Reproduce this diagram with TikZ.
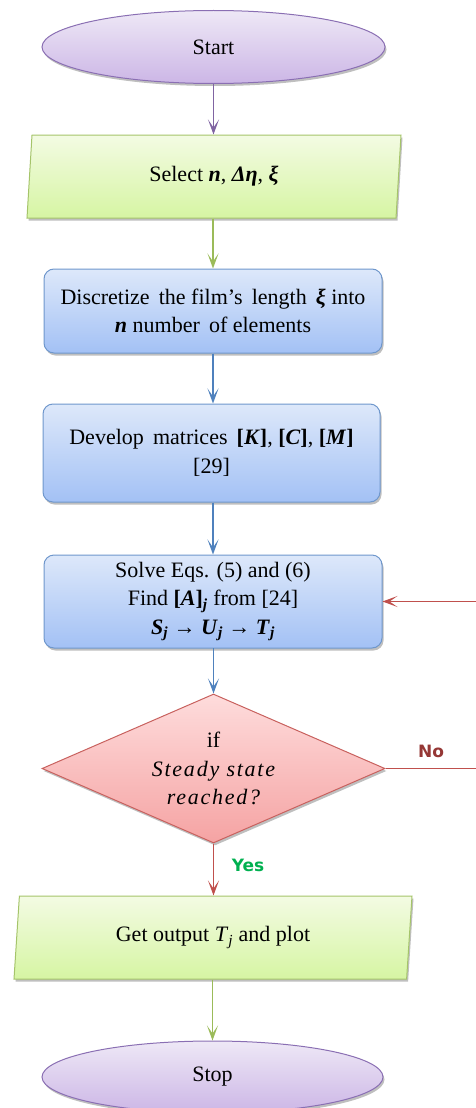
\documentclass[tikz,border=0pt]{standalone}
\usepackage{fontspec}
\setmainfont{Liberation Serif}
\newfontfamily\labelfont{DejaVu Sans}
\newfontfamily\spacedit[LetterSpace=8]{Liberation Serif}
\usetikzlibrary{shapes.geometric,shadows,arrows.meta}
\definecolor{pborder}{HTML}{8A6FB3}
\definecolor{ptop}{HTML}{EEE8F6}
\definecolor{pbot}{HTML}{CCB6E6}
\definecolor{gborder}{HTML}{A5C46A}
\definecolor{gtop}{HTML}{F3FBE3}
\definecolor{gbot}{HTML}{D6F5A3}
\definecolor{bborder}{HTML}{6F97CC}
\definecolor{btop}{HTML}{DDE8FA}
\definecolor{bbot}{HTML}{A3C1F5}
\definecolor{rborder}{HTML}{C8615E}
\definecolor{rtop}{HTML}{FEDCDC}
\definecolor{rbot}{HTML}{F5A3A3}
\definecolor{parrow}{HTML}{8064A2}
\definecolor{garrow}{HTML}{9BBB59}
\definecolor{barrow}{HTML}{4F81BD}
\definecolor{rarrow}{HTML}{C0504D}
\definecolor{nocol}{HTML}{953735}
\definecolor{yescol}{HTML}{00B050}
\newcommand{\bi}[1]{\textbf{\textit{#1}}}
\tikzset{
  shad/.style={drop shadow={shadow xshift=1.5pt,shadow yshift=-2.5pt,opacity=0.25,fill=black}},
  term/.style={ellipse,draw=pborder,line width=1pt,top color=ptop,bottom color=pbot,shad,inner sep=0pt,align=center},
  io/.style={trapezium,trapezium left angle=76,trapezium right angle=104,trapezium stretches body,draw=gborder,line width=1pt,top color=gtop,bottom color=gbot,shad,inner sep=0pt,align=center},
  proc/.style={rectangle,rounded corners=10pt,draw=bborder,line width=1pt,top color=btop,bottom color=bbot,shad,inner sep=0pt,align=center},
  dec/.style={diamond,aspect=2.3,draw=rborder,line width=1pt,top color=rtop,bottom color=rbot,shad,inner sep=0pt,align=center},
  conn/.style={line width=1.4pt,arrows={-Stealth[length=15pt,width=11pt,inset=8pt]}},
  lbl/.style={font=\labelfont\bfseries\fontsize{17}{20}\selectfont}
}
\begin{document}
\begin{tikzpicture}[x=1pt,y=1pt,font=\fontsize{22}{28.5}\selectfont]
\useasboundingbox (0,0) rectangle (475,-1108);
\node[term,minimum width=343pt,minimum height=73pt] (start) at (213.5,-47) {Start};
\node[io,minimum width=374pt,minimum height=83pt] (select) at (214,-176.5) {Select \bi{n}, \bi{Δη}, \bi{ξ}};
\node[proc,minimum width=338pt,minimum height=84pt] (disc) at (213,-311) {Discretize\, the film's\, length\, \bi{ξ} into\\\bi{n} number\, of elements};
\node[proc,minimum width=337pt,minimum height=98pt] (dev) at (211.5,-453) {Develop\, matrices\, \textbf{[}\bi{K}\textbf{]}, \textbf{[}\bi{C}\textbf{]}, \textbf{[}\bi{M}\textbf{]}\\{}[29]};
\node[proc,minimum width=338pt,minimum height=93pt] (solve) at (213,-601.5) {Solve Eqs. (5) and (6)\\Find \textbf{[}\bi{A}\textbf{]}\textsubscript{\bi{j}} from [24]\\\bi{S}\textsubscript{\bi{j}} → \bi{U}\textsubscript{\bi{j}} → \bi{T}\textsubscript{\bi{j}}};
\node[dec,minimum width=343pt,minimum height=149pt] (decide) at (213.5,-768.5) {if\\{\spacedit\itshape Steady state}\\{\spacedit\itshape reached?}};
\node[io,minimum width=398pt,minimum height=83pt] (out) at (213,-937.5) {Get output \textit{T}\textsubscript{\textit{j}} and plot};
\node[term,minimum width=341pt,minimum height=72pt] (stop) at (212.5,-1077) {Stop};
\coordinate (loop) at (477,0);
\node[lbl,text=nocol] (no) at (431,-751) {No};
\node[lbl,text=yescol] (yes) at (248,-865) {Yes};
\draw[conn,draw=parrow,fill=parrow] (start.south) -- (start.south |- select.north);
\draw[conn,draw=garrow,fill=garrow] (disc.north |- select.south) -- (disc.north);
\draw[conn,draw=barrow,fill=barrow] (disc.south) -- (disc.south |- dev.north);
\draw[conn,draw=barrow,fill=barrow] (solve.north |- dev.south) -- (solve.north);
\draw[conn,draw=barrow,fill=barrow] (solve.south) -- (solve.south -| decide.north) -- (decide.north);
\draw[conn,draw=rarrow,fill=rarrow] (decide.south) -- (decide.south |- out.north);
\draw[conn,draw=garrow,fill=garrow] (stop.north |- out.south) -- (stop.north);
\draw[conn,draw=rarrow,fill=none] (decide.east) -- (decide.east -| loop) -- (loop |- solve.east) -- (solve.east);
\end{tikzpicture}
\end{document}
